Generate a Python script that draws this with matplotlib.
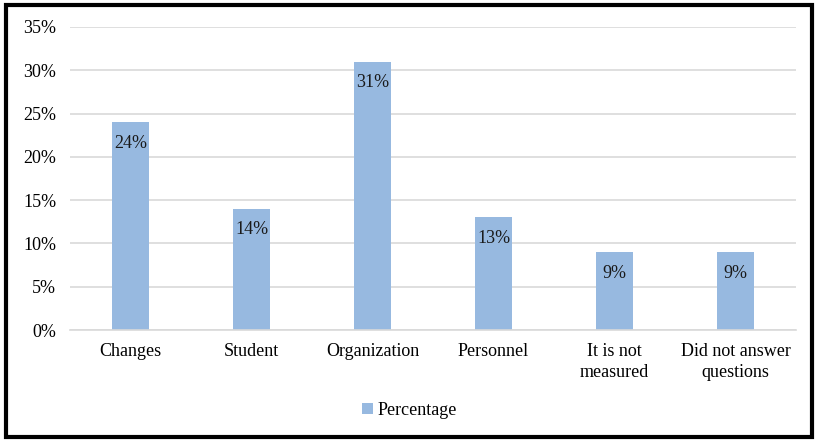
import matplotlib

matplotlib.use("Agg")
import matplotlib.pyplot as plt
from matplotlib.patches import Rectangle
from matplotlib.ticker import FuncFormatter, MultipleLocator

categories = ["Changes", "Student", "Organization", "Personnel",
              "It is not\nmeasured", "Did not answer\nquestions"]
percentages = [24, 14, 31, 13, 9, 9]

BAR_COLOR = "#97b9e0"
GRID_COLOR = "#d9d9d9"

plt.rcParams["font.family"] = ["Liberation Serif", "DejaVu Serif"]

fig = plt.figure(figsize=(8.19, 4.41), dpi=100)
ax = fig.add_axes([0.0855, 0.2517, 0.8865, 0.6871])

x = range(len(categories))
bars = ax.bar(x, [v / 100 for v in percentages], width=0.31, color=BAR_COLOR,
              label="Percentage", zorder=2)

for bar, v in zip(bars, percentages):
    ax.annotate(f"{v}%", (bar.get_x() + bar.get_width() / 2, bar.get_height()),
                xytext=(0, -9), textcoords="offset points", ha="center", va="top",
                fontsize=13, color="#1a1a1a", zorder=3)

ax.set_xlim(-0.5, len(categories) - 0.5)
ax.set_ylim(0, 0.35)
ax.yaxis.set_major_locator(MultipleLocator(0.05))
ax.yaxis.set_major_formatter(FuncFormatter(lambda v, _: f"{v * 100:.0f}%"))
ax.set_xticks(list(x))
ax.set_xticklabels(categories, fontsize=13, linespacing=1.35)
ax.tick_params(axis="y", labelsize=13, length=0, pad=10)
ax.tick_params(axis="x", length=0, pad=9)
ax.grid(axis="y", color=GRID_COLOR, linewidth=1.2, zorder=0)
for side in ("top", "right", "left"):
    ax.spines[side].set_visible(False)
ax.spines["bottom"].set_color(GRID_COLOR)
ax.spines["bottom"].set_linewidth(1.2)

fig.legend(loc="center", bbox_to_anchor=(0.5, 0.07), frameon=False, fontsize=13,
           handlelength=0.6, handleheight=0.6, handletextpad=0.3)

# black frame around the whole chart
fig.patches.append(Rectangle((0.0075, 0.0095), 0.984, 0.98, transform=fig.transFigure,
                             fill=False, edgecolor="black", linewidth=3))

fig.savefig("out.png", dpi=100)
